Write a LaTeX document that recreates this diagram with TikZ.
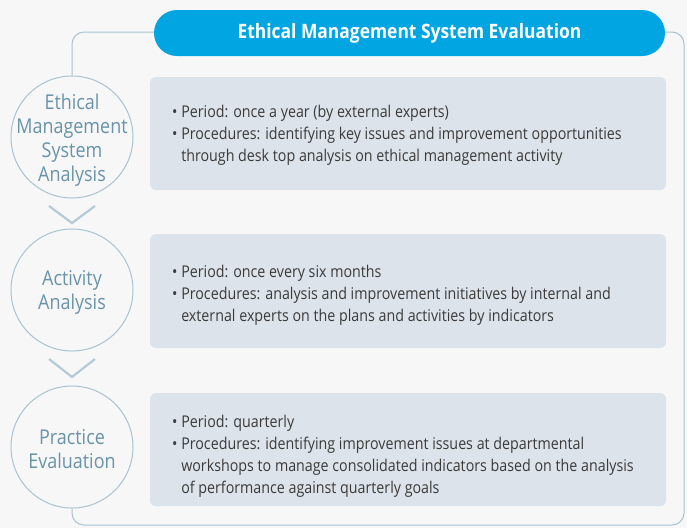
\documentclass[tikz,border=0pt]{standalone}
\usepackage{fontspec}
\setmainfont{Open Sans}[FakeStretch=0.88]
\definecolor{bg}{HTML}{F7F7F7}
\definecolor{banner}{HTML}{00A5E1}
\definecolor{panelfill}{HTML}{DCE3EA}
\definecolor{circline}{HTML}{A9C3D0}
\definecolor{circtext}{HTML}{6893A8}
\definecolor{chevcol}{HTML}{B4CAD6}
\definecolor{bodytext}{HTML}{3A3A3A}
\begin{document}
\begin{tikzpicture}[x=1pt,y=-1pt,
  circ/.style={circle, draw=circline, fill=bg, line width=1pt, minimum size=122pt, inner sep=0pt},
  circlabel/.style={text=circtext, font=\fontsize{20.4}{24}\selectfont, align=center, inner sep=0pt},
  panel/.style={fill=panelfill, rounded corners=6pt},
  body/.style={anchor=west, align=left, text=bodytext, font=\fontsize{16.2}{22}\selectfont, inner sep=0pt},
  chev/.style={draw=chevcol, line width=2.2pt},
  frame/.style={draw=circline, line width=1pt, rounded corners=12pt},
  bannerbox/.style={fill=banner, rounded corners=23pt, minimum width=511pt, minimum height=46pt, text=white, font=\bfseries\fontsize{19.8}{22}\selectfont, inner sep=0pt}]
\fill[bg] (0,0) rectangle (687,528);
\path[use as bounding box] (0,0) rectangle (687,528);
% circles
\node[circ] (c1) at (72,137) {};
\node[circ] (c2) at (72,290) {};
\node[circ] (c3) at (72,447) {};
\node[circlabel] (l1) at ([yshift=-3.5pt]c1.center) {Ethical\\Management\\System\\Analysis};
\node[circlabel] (l2) at ([yshift=-2.5pt]c2.center) {Activity\\Analysis};
\node[circlabel] (l3) at ([yshift=-2pt]c3.center) {Practice\\Evaluation};
% frame
\coordinate (tl) at (72,32);
\coordinate (tr) at (684,32);
\coordinate (br) at (684,525);
\coordinate (bl) at (72,525);
\draw[frame] (c1.north) -- (tl) -- (tr) -- (br) -- (bl) -- (c3.south);
% chevrons
\draw[chev] (49,206) -- (72,223) -- (95,206);
\draw[chev] (49,359) -- (72,377) -- (95,359);
% banner
\node[bannerbox] (title) at (409.5,33) {Ethical Management System Evaluation};
% panels
\fill[panel] (150,77) rectangle (666,190);
\fill[panel] (150,234) rectangle (666,348);
\fill[panel] (150,393) rectangle (666,506);
% texts
\node[body] (t1) at (172,135) {•~Period: once a year (by external experts)\\
•~Procedures: identifying key issues and improvement opportunities\\
\phantom{•~}through desk top analysis on ethical management activity};
\node[body] (t2) at (172,295) {•~Period: once every six months\\
•~Procedures: analysis and improvement initiatives by internal and\\
\phantom{•~}external experts on the plans and activities by indicators};
\node[body] (t3) at (172,456) {•~Period: quarterly\\
•~Procedures: identifying improvement issues at departmental\\
\phantom{•~}workshops to manage consolidated indicators based on the analysis\\
\phantom{•~}of performance against quarterly goals};
\end{tikzpicture}
\end{document}
